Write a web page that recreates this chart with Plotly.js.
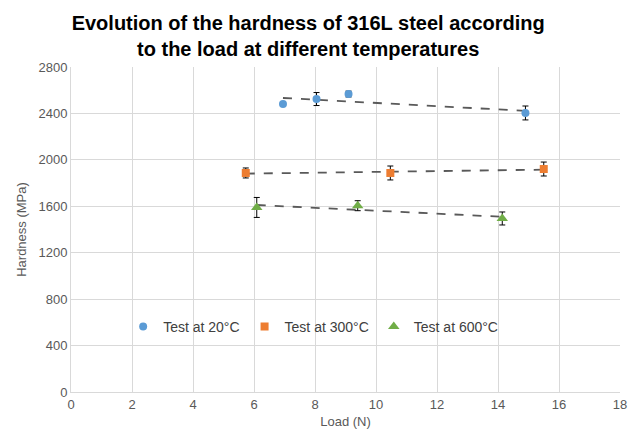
<!DOCTYPE html>
<html><head><meta charset="utf-8">
<script src="https://cdn.plot.ly/plotly-3.0.1.min.js"></script>
<style>html,body{margin:0;padding:0;background:#fff}</style>
</head><body><div id="chart" style="width:629px;height:440px"></div>
<script>
const load20 = [6.95, 8.05, 9.1, 14.9];
const hard20 = [2481, 2524, 2567, 2404];
const err20 = [0, 56, 25, 60];
const load300 = [5.73, 10.47, 15.5];
const hard300 = [1887, 1887, 1921];
const err300 = [43, 60, 60];
const load600 = [6.09, 9.4, 14.14];
const hard600 = [1590, 1605, 1495];
const err600 = [86, 43, 56];
const names = ['Test at 20°C', 'Test at 300°C', 'Test at 600°C'];
const colors = ['#5B9BD5', '#ED7D31', '#70AD47'];
const symbols = ['circle', 'square', 'triangle-up'];
const sizes = [8, 8, 10];

function fit(x, y) {
  const n = x.length;
  const mx = x.reduce((a,b)=>a+b,0)/n, my = y.reduce((a,b)=>a+b,0)/n;
  let sxy=0, sxx=0;
  for (let i=0;i<n;i++){ sxy+=(x[i]-mx)*(y[i]-my); sxx+=(x[i]-mx)**2; }
  const b = sxy/sxx, a = my - b*mx;
  const x0 = Math.min(...x), x1 = Math.max(...x);
  return {x:[x0,x1], y:[a+b*x0, a+b*x1]};
}
const sets = [[load20,hard20,err20],[load300,hard300,err300],[load600,hard600,err600]];
const traces = [];
sets.forEach((s,i)=>{
  const f = fit(s[0], s[1]);
  traces.push({x:f.x, y:f.y, mode:'lines', showlegend:false, hoverinfo:'skip',
    line:{color:'#595959', width:1.8, dash:'dash'}});
});
sets.forEach((s,i)=>{
  traces.push({x:s[0], y:s[1], name:names[i], mode:'markers', type:'scatter',
    marker:{color:colors[i], symbol:symbols[i], size:sizes[i]},
    error_y:{type:'data', array:s[2], visible:true, color:'#000', thickness:1, width:3}});
});
const layout = {
  width:629, height:440,
  margin:{l:71, r:9, t:67, b:48},
  paper_bgcolor:'#fff', plot_bgcolor:'#fff',
  font:{family:'Liberation Sans, Arial, sans-serif', color:'#595959', size:13},
  title:{text:'<b>Evolution of the hardness of 316L steel according<br>to the load at different temperatures</b>',
    font:{family:'Liberation Sans, Arial, sans-serif', size:20, color:'#000'}, x:0.49, xanchor:'center', y:0.932, yanchor:'top'},
  xaxis:{range:[0,18], dtick:2, tick0:0, showgrid:true, gridcolor:'#d9d9d9', gridwidth:1,
    zeroline:false, showline:true, linecolor:'#d9d9d9', ticks:'', tickfont:{size:13,color:'#595959'},
    title:{text:'Load (N)', font:{size:13,color:'#595959'}, standoff:6}},
  yaxis:{range:[0,2800], dtick:400, tick0:0, showgrid:true, gridcolor:'#d9d9d9', gridwidth:1,
    zeroline:false, showline:true, linecolor:'#d9d9d9', ticks:'', tickfont:{size:13,color:'#595959'},
    title:{text:'Hardness (MPa)', font:{size:13,color:'#595959'}, standoff:8}},
  legend:{orientation:'h', x:0.095, xanchor:'left', y:0.2, yanchor:'middle',
    bgcolor:'rgba(255,255,255,0)', font:{size:14,color:'#404040'}, itemwidth:30, tracegroupgap:0},
  showlegend:true
};
Plotly.newPlot('chart', traces, layout, {staticPlot:true, displayModeBar:false});
</script></body></html>
